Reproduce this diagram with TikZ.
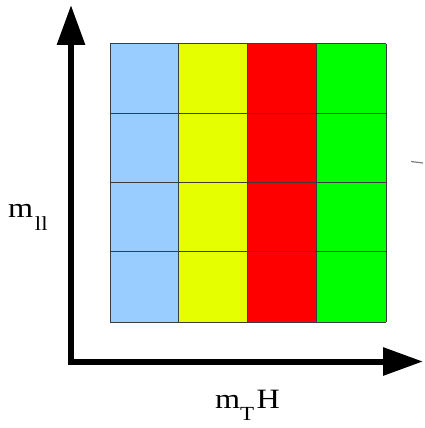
\documentclass[tikz,border=0pt]{standalone}
\usepackage{fontspec}
\setmainfont{Liberation Serif}
\usetikzlibrary{arrows.meta}
\definecolor{cblue}{RGB}{153,204,255}
\definecolor{cyellow}{RGB}{230,255,0}
\definecolor{cred}{RGB}{255,0,0}
\definecolor{cgreen}{RGB}{0,255,0}
\definecolor{gridc}{RGB}{60,60,60}
\tikzset{
  cell/.style={line width=1pt, draw=gridc},
  axis/.style={line width=6pt, line join=miter, {Triangle[length=40pt,width=27pt]}-{Triangle[length=40pt,width=27pt]}},
  lbl/.style={inner sep=0pt, anchor=base west}
}
\newcommand{\mainsz}{\fontsize{28}{28}\selectfont}
\newcommand{\subsz}{\fontsize{20}{20}\selectfont}
\begin{document}
\begin{tikzpicture}[x=1pt,y=-1pt]
\useasboundingbox (0,0) rectangle (424,428);
% columns
\fill[cblue] (110,44) rectangle (178,322);
\fill[cyellow] (178,44) rectangle (247,322);
\fill[cred] (247,44) rectangle (316,322);
\fill[cgreen] (316,44) rectangle (386,322);
% grid
\foreach \x in {110,178,247,316,386} \draw[cell] (\x,44) -- (\x,322);
\foreach \y in {44,113,182,251,322} \draw[cell] (110,\y) -- (386,\y);
% axes
\coordinate (o) at (71,361.5);
\coordinate (ytip) at (71,5);
\coordinate (xtip) at (423,361.5);
\draw[axis] (ytip) -- (o) -- (xtip);
% stray dash
\coordinate (d1) at (411,161.5);
\coordinate (d2) at (423,163);
\draw[gray, line width=1.2pt] (d1) -- (d2);
% labels
\node[lbl] (ylab) at (8,217) {\scalebox{1.15}[1]{\mainsz m\hspace{1.5pt}\raisebox{-13pt}{\subsz ll}}};
\node[lbl] (xlab) at (215,408) {\scalebox{1.15}[1]{\mainsz m\raisebox{-12pt}{\subsz T}\hspace{2pt}H}};
\end{tikzpicture}
\end{document}
